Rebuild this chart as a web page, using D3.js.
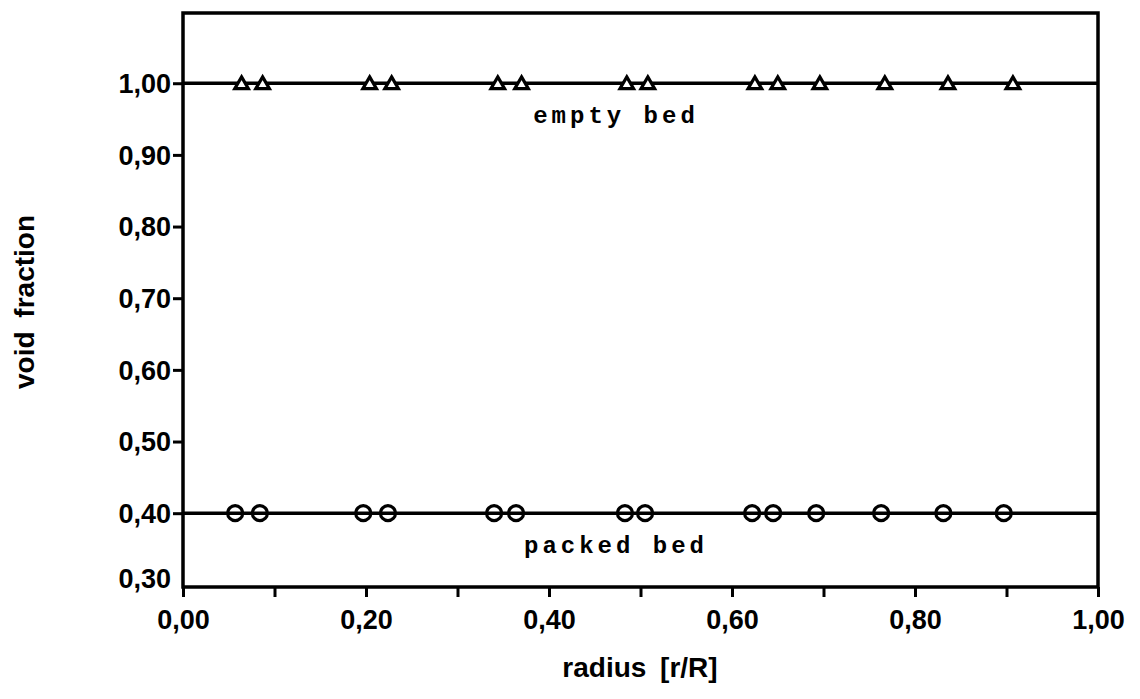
<!DOCTYPE html>
<html>
<head>
<meta charset="utf-8">
<script src="https://cdn.jsdelivr.net/npm/d3@7"></script>
<style>
  body { margin: 0; background: #fff; }
  svg text { fill: #000; }
</style>
</head>
<body>
<svg id="chart" width="1140" height="699"></svg>
<script>
// measured points, radius r/R
var emptyX = [0.064, 0.087, 0.204, 0.228, 0.344, 0.370, 0.485, 0.508, 0.625, 0.650, 0.696, 0.767, 0.836, 0.907];
var emptyY = [1.00, 1.00, 1.00, 1.00, 1.00, 1.00, 1.00, 1.00, 1.00, 1.00, 1.00, 1.00, 1.00, 1.00];
var packedX = [0.057, 0.084, 0.197, 0.224, 0.340, 0.364, 0.483, 0.505, 0.622, 0.645, 0.692, 0.763, 0.831, 0.897];
var packedY = [0.40, 0.40, 0.40, 0.40, 0.40, 0.40, 0.40, 0.40, 0.40, 0.40, 0.40, 0.40, 0.40, 0.40];
var fitLevels = [1.00, 0.40];
var seriesLabels = ["empty bed", "packed bed"];
var xTicks = [0, 0.1, 0.2, 0.3, 0.4, 0.5, 0.6, 0.7, 0.8, 0.9, 1.0];
var yTicks = [0.3, 0.4, 0.5, 0.6, 0.7, 0.8, 0.9, 1.0];

// note: "top" is a reserved window prop, so use plotTop etc.
var svg = d3.select("#chart"),
	plotLeft = 183, plotRight = 1098, plotTop = 13, plotBottom = 587;

var x = d3.scaleLinear().domain([0, 1]).range([plotLeft, plotRight]);
var y = d3.scaleLinear().domain([0.297, 1.098]).range([plotBottom, plotTop]);

var comma = d3.formatLocale({decimal: ",", thousands: ".", grouping: [3], currency: ["", ""]}).format(".2f");
var labelFont = "'Liberation Sans', Arial, sans-serif";

// x axis
var xAxis = svg.append("g")
	.attr("transform", "translate(0," + plotBottom + ")")
	.call(d3.axisBottom(x).tickValues(xTicks).tickSize(10).tickPadding(13)
		.tickFormat(function(d) { return Math.round(d * 10) % 2 == 0 ? comma(d) : ""; }));
xAxis.select(".domain").remove();
xAxis.selectAll("line").attr("stroke", "#000").attr("stroke-width", 3);
xAxis.selectAll("text")
	.style("font-family", labelFont).style("font-size", "27px").style("font-weight", "bold");

// y axis
var yAxis = svg.append("g")
	.attr("transform", "translate(" + plotLeft + ",0)")
	.call(d3.axisLeft(y).tickValues(yTicks).tickSize(10).tickPadding(2).tickFormat(comma));
yAxis.select(".domain").remove();
yAxis.selectAll("line").attr("stroke", "#000").attr("stroke-width", 3)
	.attr("stroke-opacity", function(d) { return d < 0.35 ? 0 : 1; });
yAxis.selectAll("text")
	.style("font-family", labelFont).style("font-size", "27px").style("font-weight", "bold")
	.attr("dy", function(d) { return d < 0.35 ? "0.1em" : "0.34em"; });

// frame
svg.append("rect")
	.attr("x", plotLeft).attr("y", plotTop)
	.attr("width", plotRight - plotLeft).attr("height", plotBottom - plotTop)
	.attr("fill", "none").attr("stroke", "#000").attr("stroke-width", 3.5);

// level lines
svg.selectAll(".level").data(fitLevels).enter().append("line")
	.attr("x1", x(0)).attr("x2", x(1))
	.attr("y1", function(d) { return y(d); })
	.attr("y2", function(d) { return y(d); })
	.attr("stroke", "#000").attr("stroke-width", 3.5);

// empty bed: triangles
var tri = d3.symbol().type(d3.symbolTriangle).size(80);
svg.selectAll(".tri").data(emptyX).enter().append("path")
	.attr("d", tri)
	.attr("transform", function(d, i) { return "translate(" + x(d) + "," + (y(emptyY[i]) + 1.5) + ")"; })
	.attr("fill", "#fff").attr("stroke", "#000").attr("stroke-width", 3.2);

// packed bed: circles
svg.selectAll(".circ").data(packedX).enter().append("circle")
	.attr("cx", function(d) { return x(d); })
	.attr("cy", function(d, i) { return y(packedY[i]); })
	.attr("r", 7.5)
	.attr("fill", "none").attr("stroke", "#000").attr("stroke-width", 3.2);

// series labels
svg.selectAll(".slabel").data(seriesLabels).enter().append("text")
	.attr("x", 616)
	.attr("y", function(d, i) { return y(fitLevels[i]) + 40; })
	.attr("text-anchor", "middle")
	.style("font-family", "'Liberation Mono', 'DejaVu Sans Mono', monospace")
	.style("font-size", "24px").style("font-weight", "bold")
	.style("letter-spacing", "4px")
	.text(function(d) { return d; });

// axis titles
svg.append("text")
	.attr("x", 640).attr("y", 677)
	.attr("text-anchor", "middle")
	.style("font-family", labelFont).style("font-size", "28px").style("font-weight", "bold")
	.style("word-spacing", "6px")
	.text("radius [r/R]");

svg.append("text")
	.attr("transform", "translate(34,302) rotate(-90)")
	.attr("text-anchor", "middle")
	.style("font-family", labelFont).style("font-size", "28px").style("font-weight", "bold")
	.style("word-spacing", "6px")
	.text("void fraction");
</script>
</body>
</html>
